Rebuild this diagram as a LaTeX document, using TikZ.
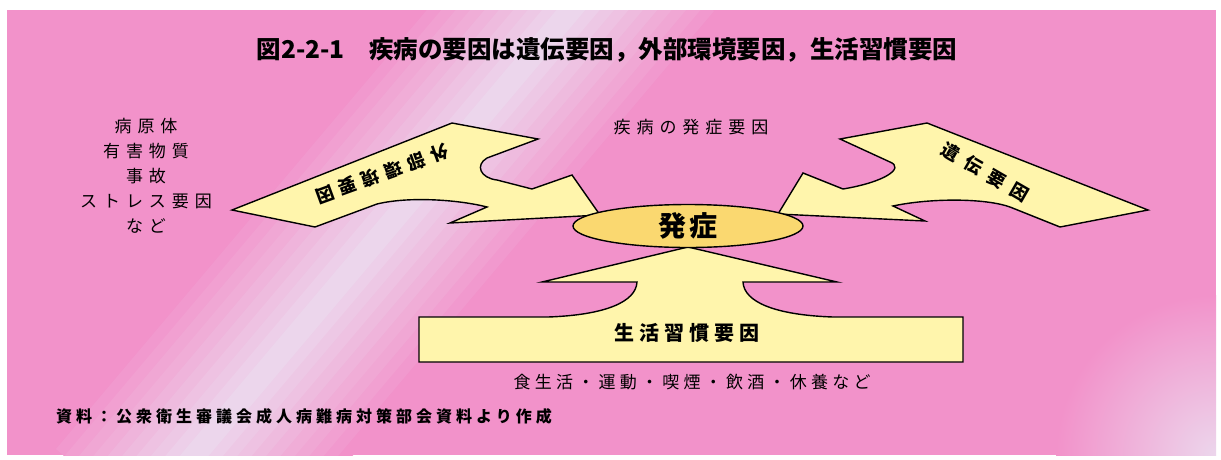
\documentclass[tikz,border=0pt]{standalone}
\usepackage{fontspec}
\newfontfamily\jp{Noto Sans CJK JP}
\newfontfamily\jps[LetterSpace=25]{Noto Sans CJK JP}
\newfontfamily\jpw[LetterSpace=35]{Noto Sans CJK JP}
\newfontfamily\jpx[LetterSpace=48]{Noto Sans CJK JP}
\usetikzlibrary{calc,shapes.geometric}
\definecolor{pinkc}{RGB}{242,146,202}
\definecolor{lightc}{RGB}{236,214,236}
\definecolor{arrowy}{RGB}{255,245,172}
\definecolor{ellc}{RGB}{250,216,112}
\begin{document}
\begin{tikzpicture}[x=1pt,y=-1pt,
  shapeline/.style={draw=black, line width=1.4pt, fill=arrowy, line join=miter},
  txt/.style={inner sep=0pt, align=center},
]
\useasboundingbox (0,0) rectangle (1221,459);
\fill[white] (0,0) rectangle (1221,459);
\fill[pinkc] (7,10) rectangle (1216,455);
\begin{scope}
  \clip (7,10) rectangle (1216,455);
  \coordinate (bA) at (630,-60);
  \coordinate (bB) at (140,520);
  \foreach \i in {10,...,0} {
    \pgfmathsetmacro\w{(\i+1)*11}
    \pgfmathtruncatemacro\pc{100-\i*10}
    \fill[lightc!\pc!pinkc] ($(bA)!\w pt!90:(bB)$) -- ($(bB)!\w pt!-90:(bA)$) -- ($(bB)!\w pt!90:(bA)$) -- ($(bA)!\w pt!-90:(bB)$) -- cycle;
  }
  \shade[inner color=lightc, outer color=pinkc] (1216,455) circle (160);
\end{scope}

% left arrow
\draw[shapeline] (232,210) -- (452,123) -- (538,139) -- (487,158)
  .. controls (475,165) and (480,178) .. (497,180) -- (532,189) -- (572,175)
  -- (600,215) -- (450,223) -- (487,207)
  .. controls (460,200) and (410,196) .. (377,204) -- (315,227) -- cycle;
% right arrow
\draw[shapeline] (778,214) -- (803,173) -- (843,189)
  .. controls (885,182) and (905,168) .. (890,162) -- (840,139) -- (927,123)
  -- (1148,210) -- (1060,227) -- (1010,207)
  .. controls (985,198) and (930,198) .. (893,206) -- (925,221) -- cycle;
% bottom arrow with bar
\draw[shapeline] (419,362) -- (419,317) -- (548,317)
  .. controls (605,315) and (636,302) .. (637,282) -- (542,282) -- (688,247)
  -- (837,282) -- (743,282) .. controls (744,302) and (775,315) .. (833,317)
  -- (963,317) -- (963,362) -- cycle;

\node[ellipse, draw=black, line width=1.4pt, fill=ellc, minimum width=230pt, minimum height=43pt, inner sep=0pt]
  (hassho) at (688,226) {\jp\bfseries\fontsize{28}{28}\selectfont 発\hspace{4pt}症};

\node[txt, font=\jp\bfseries\fontsize{24.5}{24.5}\selectfont] (title) at (607,50)
  {図2-2-1\hspace{1em}疾病の要因は遺伝要因，外部環境要因，生活習慣要因};
\node[txt, font=\jpw\fontsize{17}{17}\selectfont] (yoin) at (691,127) {疾病の発症要因};
\node[txt, font=\jpw\fontsize{17}{25}\selectfont] (gaibu) at (146,176)
  {病原体\\有害物質\\事故\\ストレス要因\\など};
\node[txt, font=\jpw\bfseries\fontsize{18}{18}\selectfont, rotate=200] (gaibut) at (382,174) {外部環境要因};
\node[txt, font=\jpx\bfseries\fontsize{18}{18}\selectfont, rotate=-30] (ident) at (985,172) {遺伝要因};
\node[txt, font=\jps\bfseries\fontsize{20}{20}\selectfont] (seikatsu) at (687,333) {生活習慣要因};
\node[txt, font=\jps\fontsize{17}{17}\selectfont] (rei) at (692,382) {食生活・運動・喫煙・飲酒・休養など};
\node[txt, font=\jps\bfseries\fontsize{16}{16}\selectfont] (src) at (304,416) {資料：公衆衛生審議会成人病難病対策部会資料より作成};
\end{tikzpicture}
\end{document}
